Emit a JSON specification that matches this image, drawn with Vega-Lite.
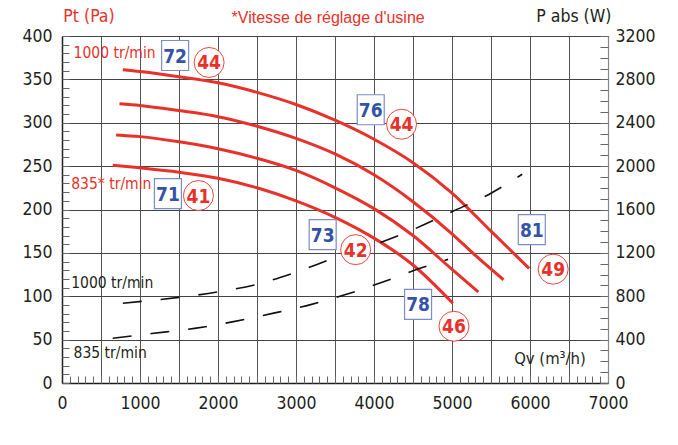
{
  "$schema": "https://vega.github.io/schema/vega-lite/v6.json",
  "width": 546,
  "height": 347,
  "autosize": {"type": "none"},
  "padding": {"left": 62, "top": 36, "right": 70, "bottom": 62},
  "background": "white",
  "config": {
    "view": {"stroke": null},
    "axis": {
      "labelFont": "DejaVu Sans Condensed, DejaVu Sans",
      "labelFontSize": 17.5,
      "labelColor": "#231f20",
      "title": null
    }
  },
  "datasets": {
    "pressure": [
      {"speed": "1000", "q": 780, "p": 361}, {"speed": "1000", "q": 1000, "p": 359}, {"speed": "1000", "q": 1500, "p": 353}, {"speed": "1000", "q": 2000, "p": 346}, {"speed": "1000", "q": 2500, "p": 335}, {"speed": "1000", "q": 3000, "p": 321}, {"speed": "1000", "q": 3500, "p": 303}, {"speed": "1000", "q": 4000, "p": 281}, {"speed": "1000", "q": 4500, "p": 254}, {"speed": "1000", "q": 5000, "p": 219}, {"speed": "1000", "q": 5500, "p": 175}, {"speed": "1000", "q": 5990, "p": 132},
      {"speed": "945", "q": 737, "p": 322}, {"speed": "945", "q": 1000, "p": 320}, {"speed": "945", "q": 1500, "p": 314}, {"speed": "945", "q": 2000, "p": 307}, {"speed": "945", "q": 2500, "p": 296}, {"speed": "945", "q": 3000, "p": 282}, {"speed": "945", "q": 3500, "p": 264}, {"speed": "945", "q": 4000, "p": 240}, {"speed": "945", "q": 4500, "p": 209}, {"speed": "945", "q": 5000, "p": 172}, {"speed": "945", "q": 5300, "p": 147}, {"speed": "945", "q": 5660, "p": 119},
      {"speed": "890", "q": 694, "p": 286}, {"speed": "890", "q": 1000, "p": 284}, {"speed": "890", "q": 1500, "p": 278}, {"speed": "890", "q": 2000, "p": 270}, {"speed": "890", "q": 2500, "p": 259}, {"speed": "890", "q": 3000, "p": 245}, {"speed": "890", "q": 3500, "p": 225}, {"speed": "890", "q": 4000, "p": 201}, {"speed": "890", "q": 4500, "p": 170}, {"speed": "890", "q": 5000, "p": 131}, {"speed": "890", "q": 5338, "p": 105},
      {"speed": "835", "q": 651, "p": 251}, {"speed": "835", "q": 1000, "p": 248}, {"speed": "835", "q": 1500, "p": 243}, {"speed": "835", "q": 2000, "p": 236}, {"speed": "835", "q": 2500, "p": 225}, {"speed": "835", "q": 3000, "p": 210}, {"speed": "835", "q": 3500, "p": 191}, {"speed": "835", "q": 4000, "p": 167}, {"speed": "835", "q": 4500, "p": 136}, {"speed": "835", "q": 5010, "p": 92}
    ],
    "power": [
      {"speed": "1000", "q": 780, "w": 736}, {"speed": "1000", "q": 1500, "w": 790}, {"speed": "1000", "q": 2000, "w": 840}, {"speed": "1000", "q": 2500, "w": 910}, {"speed": "1000", "q": 3000, "w": 1022}, {"speed": "1000", "q": 3500, "w": 1155}, {"speed": "1000", "q": 4000, "w": 1275}, {"speed": "1000", "q": 4500, "w": 1415}, {"speed": "1000", "q": 5000, "w": 1580}, {"speed": "1000", "q": 5500, "w": 1750}, {"speed": "1000", "q": 5900, "w": 1925},
      {"speed": "835", "q": 650, "w": 412}, {"speed": "835", "q": 1150, "w": 456}, {"speed": "835", "q": 1700, "w": 504}, {"speed": "835", "q": 2200, "w": 566}, {"speed": "835", "q": 2700, "w": 642}, {"speed": "835", "q": 3200, "w": 725}, {"speed": "835", "q": 3700, "w": 830}, {"speed": "835", "q": 4150, "w": 940}, {"speed": "835", "q": 4600, "w": 1060}, {"speed": "835", "q": 4950, "w": 1140}
    ],
    "levels": [
      {"measure": "Lw", "value": "72", "q": 1450, "p": 377.5},
      {"measure": "Lp", "value": "44", "q": 1886, "p": 369.5},
      {"measure": "Lw", "value": "76", "q": 3958, "p": 315},
      {"measure": "Lp", "value": "44", "q": 4353, "p": 298.3},
      {"measure": "Lw", "value": "71", "q": 1358, "p": 218.2},
      {"measure": "Lp", "value": "41", "q": 1749, "p": 216.1},
      {"measure": "Lw", "value": "73", "q": 3342, "p": 171},
      {"measure": "Lp", "value": "42", "q": 3765, "p": 153.7},
      {"measure": "Lw", "value": "78", "q": 4565, "p": 90.7},
      {"measure": "Lp", "value": "46", "q": 5025, "p": 65.4},
      {"measure": "Lw", "value": "81", "q": 6023, "p": 176.7},
      {"measure": "Lp", "value": "49", "q": 6297, "p": 131.2}
    ],
    "notes": [
      {"text": "1000 tr/min", "role": "curve", "family": "pressure", "q": 148, "p": 380},
      {"text": "835* tr/min", "role": "curve", "family": "pressure", "q": 118, "p": 229},
      {"text": "1000 tr/min", "role": "curve", "family": "power", "q": 118, "p": 115},
      {"text": "835 tr/min", "role": "curve", "family": "power", "q": 148, "p": 35},
      {"text": "Qv (m³/h)", "role": "axis", "family": "flow", "q": 6715, "p": 28},
      {"text": "Pt (Pa)", "role": "title", "family": "pressure", "q": 346, "p": 422},
      {"text": "P abs (W)", "role": "title", "family": "power", "q": 6562, "p": 422},
      {"text": "*Vitesse de réglage d'usine", "role": "note", "family": "pressure", "q": 3412, "p": 421}
    ]
  },
  "layer": [
    {
      "data": {"name": "pressure"},
      "mark": {"type": "line", "color": "#e8312a", "strokeWidth": 3, "interpolate": "monotone"},
      "encoding": {
        "x": {"field": "q", "type": "quantitative", "scale": {"domain": [0, 7000], "nice": false, "zero": false},
          "axis": {"values": [0, 500, 1000, 1500, 2000, 2500, 3000, 3500, 4000, 4500, 5000, 5500, 6000, 6500, 7000], "format": "d",
            "labelExpr": "datum.value % 1000 === 0 ? datum.label : ''", "grid": true, "gridColor": "#555", "gridWidth": 1,
            "ticks": false, "labelPadding": 11, "domainColor": "#231f20", "domainWidth": 1.5, "labelOverlap": false, "labelBound": false, "labelFlush": false}},
        "y": {"field": "p", "type": "quantitative", "scale": {"domain": [0, 400], "nice": false, "zero": false},
          "axis": {"values": [0, 50, 100, 150, 200, 250, 300, 350, 400], "format": "d", "orient": "left", "grid": true, "gridColor": "#444", "gridWidth": 1,
            "ticks": false, "labelPadding": 10, "domainColor": "#231f20", "domainWidth": 1.5, "labelOverlap": false, "labelBound": false, "labelFlush": false}},
        "detail": {"field": "speed", "type": "nominal"}
      }
    },
    {
      "data": {"name": "power"},
      "transform": [{"filter": "datum.speed === '1000'"}],
      "mark": {"type": "line", "color": "#111", "strokeWidth": 1.6, "strokeDash": [19, 19], "interpolate": "monotone"},
      "encoding": {
        "x": {"field": "q", "type": "quantitative", "scale": {"domain": [0, 7000], "nice": false, "zero": false}, "axis": null},
        "y": {"field": "w", "type": "quantitative", "scale": {"domain": [0, 3200], "nice": false, "zero": false},
          "axis": {"orient": "right", "values": [0, 400, 800, 1200, 1600, 2000, 2400, 2800, 3200], "format": "d", "grid": false, "ticks": false,
            "labelPadding": 7, "domainColor": "#888", "domainWidth": 1.2, "labelOverlap": false, "labelBound": false, "labelFlush": false}}
      }
    },
    {
      "data": {"name": "power"},
      "transform": [{"filter": "datum.speed === '835'"}],
      "mark": {"type": "line", "color": "#111", "strokeWidth": 1.6, "strokeDash": [19, 19], "interpolate": "monotone"},
      "encoding": {
        "x": {"field": "q", "type": "quantitative", "scale": {"domain": [0, 7000], "nice": false, "zero": false}, "axis": null},
        "y": {"field": "w", "type": "quantitative", "scale": {"domain": [0, 3200], "nice": false, "zero": false},
          "axis": {"orient": "right", "tickCount": 32, "labels": false, "grid": false, "domain": false, "ticks": true, "tickSize": -8, "tickColor": "#666", "tickWidth": 1}}
      }
    },
    {
      "data": {"name": "levels"},
      "transform": [{"filter": "datum.measure === 'Lw'"}],
      "mark": {"type": "point", "shape": "M-0.9,-1H0.9V1H-0.9Z", "filled": true, "fill": "white", "stroke": "#7b8cc8", "strokeWidth": 1.2, "size": 900, "opacity": 1},
      "encoding": {
        "x": {"field": "q", "type": "quantitative", "scale": {"domain": [0, 7000], "nice": false, "zero": false},
          "axis": {"orient": "bottom", "tickCount": 70, "labels": false, "grid": false, "domain": false, "ticks": true, "tickSize": -7, "tickColor": "#666", "tickWidth": 1}},
        "y": {"field": "p", "type": "quantitative", "scale": {"domain": [0, 400], "nice": false, "zero": false},
          "axis": {"orient": "left", "tickCount": 40, "labels": false, "grid": false, "domain": false, "ticks": true, "tickSize": -7, "tickColor": "#666", "tickWidth": 1}}
      }
    },
    {
      "data": {"name": "levels"},
      "transform": [{"filter": "datum.measure === 'Lw'"}],
      "mark": {"type": "text", "color": "#3553a6", "font": "DejaVu Sans Condensed, DejaVu Sans", "fontWeight": "bold", "fontSize": 19, "baseline": "middle", "align": "center", "dy": 1},
      "encoding": {
        "x": {"field": "q", "type": "quantitative", "scale": {"domain": [0, 7000], "nice": false, "zero": false}, "axis": null},
        "y": {"field": "p", "type": "quantitative", "scale": {"domain": [0, 400], "nice": false, "zero": false}, "axis": null},
        "text": {"field": "value"}
      }
    },
    {
      "data": {"name": "levels"},
      "transform": [{"filter": "datum.measure === 'Lp'"}],
      "mark": {"type": "point", "shape": "circle", "filled": true, "fill": "white", "stroke": "#e8312a", "strokeWidth": 0.9, "size": 900, "opacity": 1},
      "encoding": {
        "x": {"field": "q", "type": "quantitative", "scale": {"domain": [0, 7000], "nice": false, "zero": false}, "axis": null},
        "y": {"field": "p", "type": "quantitative", "scale": {"domain": [0, 400], "nice": false, "zero": false}, "axis": null}
      }
    },
    {
      "data": {"name": "levels"},
      "transform": [{"filter": "datum.measure === 'Lp'"}],
      "mark": {"type": "text", "color": "#e8312a", "font": "DejaVu Sans Condensed, DejaVu Sans", "fontWeight": "bold", "fontSize": 19, "baseline": "middle", "align": "center", "dy": 1},
      "encoding": {
        "x": {"field": "q", "type": "quantitative", "scale": {"domain": [0, 7000], "nice": false, "zero": false}, "axis": null},
        "y": {"field": "p", "type": "quantitative", "scale": {"domain": [0, 400], "nice": false, "zero": false}, "axis": null},
        "text": {"field": "value"}
      }
    },
    {
      "data": {"name": "notes"},
      "transform": [{"filter": "datum.role === 'curve'"}],
      "mark": {"type": "text", "font": "DejaVu Sans Condensed, DejaVu Sans", "fontSize": 15.5, "baseline": "middle", "align": "left"},
      "encoding": {
        "x": {"field": "q", "type": "quantitative", "scale": {"domain": [0, 7000], "nice": false, "zero": false}, "axis": null},
        "y": {"field": "p", "type": "quantitative", "scale": {"domain": [0, 400], "nice": false, "zero": false}, "axis": null},
        "text": {"field": "text"},
        "color": {"field": "family", "type": "nominal", "scale": {"domain": ["pressure", "power", "flow"], "range": ["#e8312a", "#231f20", "#231f20"]}, "legend": null}
      }
    },
    {
      "data": {"name": "notes"},
      "transform": [{"filter": "datum.role === 'title'"}],
      "mark": {"type": "text", "font": "DejaVu Sans Condensed, DejaVu Sans", "fontSize": 17.5, "baseline": "middle", "align": "center"},
      "encoding": {
        "x": {"field": "q", "type": "quantitative", "scale": {"domain": [0, 7000], "nice": false, "zero": false}, "axis": null},
        "y": {"field": "p", "type": "quantitative", "scale": {"domain": [0, 400], "nice": false, "zero": false}, "axis": null},
        "text": {"field": "text"},
        "color": {"field": "family", "type": "nominal", "scale": {"domain": ["pressure", "power", "flow"], "range": ["#e8312a", "#231f20", "#231f20"]}, "legend": null}
      }
    },
    {
      "data": {"name": "notes"},
      "transform": [{"filter": "datum.role === 'axis'"}],
      "mark": {"type": "text", "font": "DejaVu Sans Condensed, DejaVu Sans", "fontSize": 16.5, "baseline": "middle", "align": "right", "color": "#231f20"},
      "encoding": {
        "x": {"field": "q", "type": "quantitative", "scale": {"domain": [0, 7000], "nice": false, "zero": false}, "axis": null},
        "y": {"field": "p", "type": "quantitative", "scale": {"domain": [0, 400], "nice": false, "zero": false}, "axis": null},
        "text": {"field": "text"}
      }
    },
    {
      "data": {"name": "notes"},
      "transform": [{"filter": "datum.role === 'note'"}],
      "mark": {"type": "text", "font": "Liberation Sans, Arial", "fontSize": 16, "baseline": "middle", "align": "center", "color": "#e8312a"},
      "encoding": {
        "x": {"field": "q", "type": "quantitative", "scale": {"domain": [0, 7000], "nice": false, "zero": false}, "axis": null},
        "y": {"field": "p", "type": "quantitative", "scale": {"domain": [0, 400], "nice": false, "zero": false}, "axis": null},
        "text": {"field": "text"}
      }
    }
  ],
  "resolve": {"scale": {"x": "independent", "y": "independent", "color": "independent"}, "axis": {"x": "independent", "y": "independent"}}
}
